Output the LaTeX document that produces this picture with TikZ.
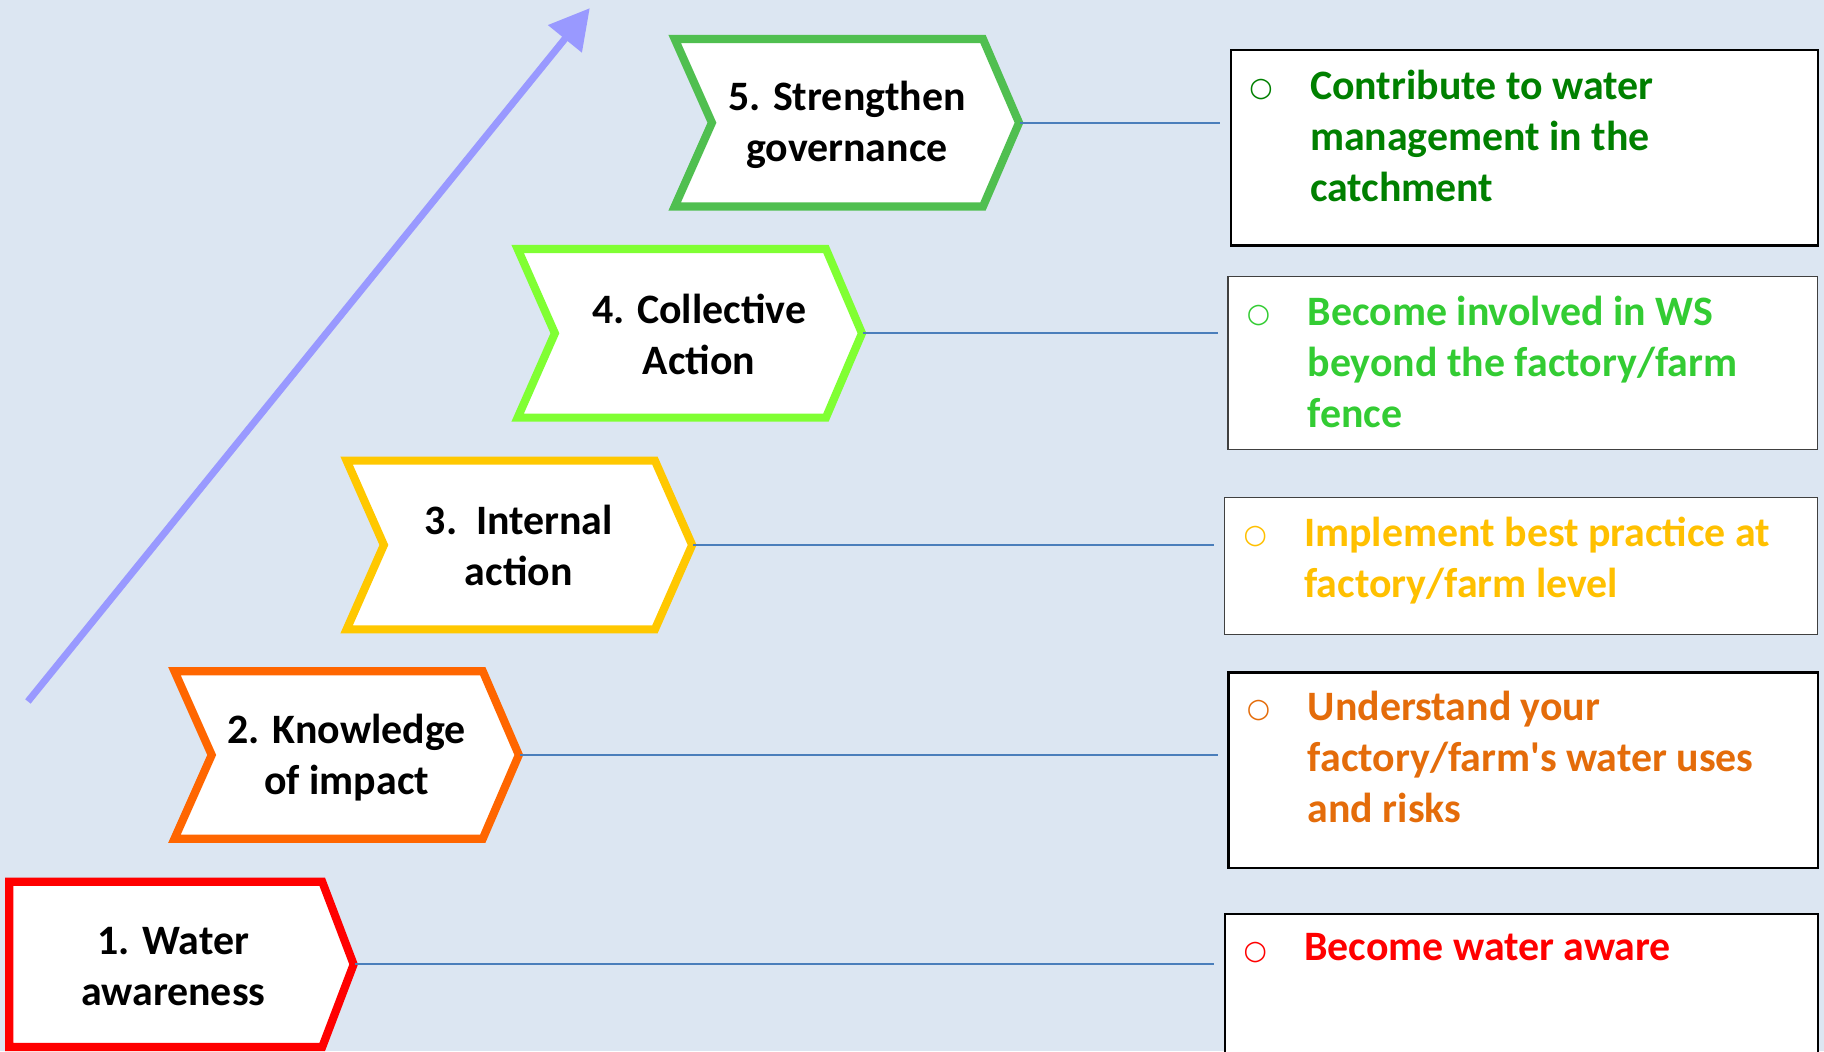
\documentclass[tikz,border=0pt]{standalone}
\usepackage{fontspec}
\setmainfont{Carlito}
\newfontfamily\bulletfont{DejaVu Sans}
\usetikzlibrary{arrows.meta}
\definecolor{bg}{HTML}{DCE6F2}
\definecolor{cfive}{HTML}{50BF50}
\definecolor{cfour}{HTML}{80FF33}
\definecolor{cthree}{HTML}{FFC800}
\definecolor{ctwo}{HTML}{FF6600}
\definecolor{cone}{HTML}{FF0000}
\definecolor{tfive}{HTML}{008000}
\definecolor{tfour}{HTML}{33CC33}
\definecolor{tthree}{HTML}{FFC000}
\definecolor{ttwo}{HTML}{E46C0A}
\definecolor{tone}{HTML}{FF0000}
\definecolor{connblue}{HTML}{4A7EBB}
\definecolor{arrowblue}{HTML}{9999FF}
\begin{document}
\begin{tikzpicture}[x=1pt,y=-1pt,
  chev/.style={draw=#1, line width=7pt, line join=miter, fill=white},
  chevtext/.style={font=\fontsize{36}{44}\selectfont\bfseries, align=center, inner sep=0pt, text=black},
  rbox/.style={draw=black, line width=2pt, fill=white, anchor=north west, inner sep=0pt},
  rboxthin/.style={draw=black!75, line width=1.2pt, fill=white, anchor=north west, inner sep=0pt},
  bul/.style={font=\bulletfont\fontsize{23}{23}\selectfont, anchor=center, inner sep=0pt, text=#1},
  btext/.style={font=\fontsize{36}{44}\selectfont\bfseries, align=left, anchor=north west, inner sep=0pt, text=#1},
  conn/.style={draw=connblue, line width=1.8pt, shorten >=8pt, shorten <=1pt},
]
\fill[bg] (0,0) rectangle (1568,903.5);
\useasboundingbox (0,0) rectangle (1568,903.5);

% progress arrow
\coordinate (as) at (24,603);
\coordinate (ae) at (507,7);
\draw[arrowblue, line width=6pt, -{Triangle[length=34pt,width=36pt]}] (as) -- (ae);

% chevrons
\draw[chev=cfive] (580,33.5) -- (845,33.5) -- (876,105.5) -- (845,177.5) -- (580,177.5) -- (612,105.5) -- cycle;
\coordinate (t5) at (876,105.5);
\node[chevtext] (n5) at (728,107.5) {5. Strengthen\\governance};

\draw[chev=cfour] (445,214) -- (710,214) -- (741,286.5) -- (710,359) -- (445,359) -- (477,286.5) -- cycle;
\coordinate (t4) at (741,286.5);
\node[chevtext] (n4) at (601,287.5) {4. Collective\\Action};

\draw[chev=cthree] (298,396) -- (563,396) -- (595,468.5) -- (563,541) -- (298,541) -- (330,468.5) -- cycle;
\coordinate (t3) at (595,468.5);
\node[chevtext] (n3) at (446,469) {3.\ \ Internal\\action};

\draw[chev=ctwo] (150,577) -- (415,577) -- (446,649) -- (415,721) -- (150,721) -- (182,649) -- cycle;
\coordinate (t2) at (446,649);
\node[chevtext] (n2) at (298,651) {2. Knowledge\\of impact};

\draw[chev=cone] (8,758) -- (277,758) -- (304,829) -- (277,900) -- (8,900) -- cycle;
\coordinate (t1) at (304,829);
\node[chevtext] (n1) at (149,831) {1. Water\\awareness};

% right boxes
\node[rbox, minimum width=505pt, minimum height=168pt] (r5) at (1057,42) {};
\node[rboxthin, minimum width=507pt, minimum height=149pt] (r4) at (1055,237) {};
\node[rboxthin, minimum width=510pt, minimum height=118pt] (r3) at (1052,427) {};
\node[rbox, minimum width=507pt, minimum height=168pt] (r2) at (1055,577) {};
\node[rbox, line width=1.5pt, minimum width=510pt, minimum height=130pt] (r1) at (1052,785) {};

% connectors
\draw[conn] (t5) -- (t5 -| r5.west);
\draw[conn] (t4) -- (t4 -| r4.west);
\draw[conn] (t3) -- (t3 -| r3.west);
\draw[conn] (t2) -- (t2 -| r2.west);
\draw[conn] (t1) -- (t1 -| r1.west);

% box texts
\node[bul=tfive] (b5) at (1084,77) {○};
\node[btext=tfive] (x5) at (1126,60) {Contribute to water\\management in the\\catchment};
\node[bul=tfour] (b4) at (1082,271) {○};
\node[btext=tfour] (x4) at (1124,254) {Become involved in WS\\beyond the factory/farm\\fence};
\node[bul=tthree] (b3) at (1079,461) {○};
\node[btext=tthree] (x3) at (1121,444) {Implement best practice at\\factory/farm level};
\node[bul=ttwo] (b2) at (1082,611) {○};
\node[btext=ttwo] (x2) at (1124,594) {Understand your\\factory/farm\textquotesingle s water uses\\and risks};
\node[bul=tone] (b1) at (1079,819) {○};
\node[btext=tone] (x1) at (1121,802) {Become water aware};
\end{tikzpicture}
\end{document}
